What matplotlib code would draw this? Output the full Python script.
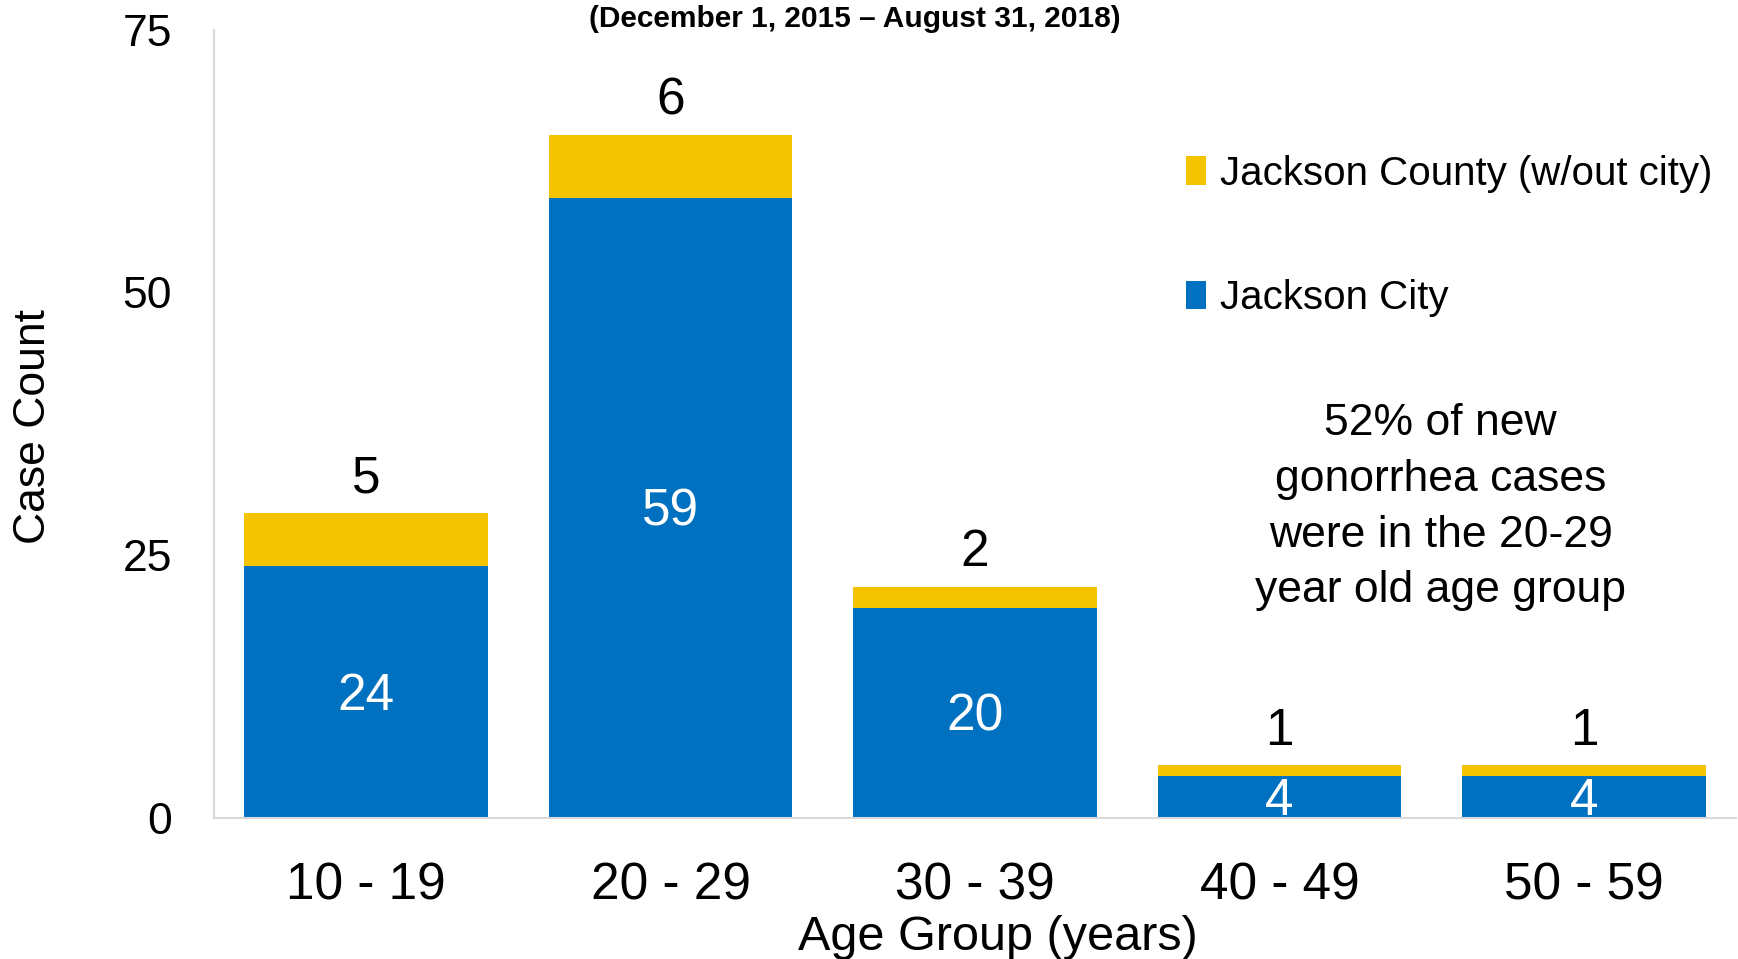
import matplotlib.pyplot as plt
import numpy as np

plt.rcParams['font.family'] = ['Liberation Sans', 'DejaVu Sans']

age_groups = ['10 - 19', '20 - 29', '30 - 39', '40 - 49', '50 - 59']
city_cases = [24, 59, 20, 4, 4]
county_cases = [5, 6, 2, 1, 1]

BLUE = '#0070C0'
GOLD = '#F5C400'

fig = plt.figure(figsize=(17.38, 9.59), dpi=100)
ax = fig.add_axes([0.123, 0.147, 0.876, 0.822])

x = np.arange(len(age_groups))
city = ax.bar(x, city_cases, width=0.8, color=BLUE, label='Jackson City')
county = ax.bar(x, county_cases, width=0.8, bottom=city_cases, color=GOLD,
                label='Jackson County (w/out city)')

# city counts inside the blue part, county counts above the stack
for xi, c, k in zip(x, city_cases, county_cases):
    ax.annotate(str(c), (xi, c / 2), xytext=(0, -3), textcoords='offset points',
                ha='center', va='center', color='white', fontsize=37)
    ax.annotate(str(k), (xi, c + k), xytext=(0, 7), textcoords='offset points',
                ha='center', va='bottom', fontsize=37)

ax.set_xlim(-0.5, 4.5)
ax.set_ylim(0, 75)
ax.set_yticks([0, 25, 50, 75])
ax.set_xticks(x)
ax.set_xticklabels(age_groups)
ax.tick_params(axis='y', length=0, pad=30, labelsize=32)
ax.tick_params(axis='x', length=0, pad=31, labelsize=37)

for s in ['top', 'right']:
    ax.spines[s].set_visible(False)
for s in ['left', 'bottom']:
    ax.spines[s].set_color('#D9D9D9')
    ax.spines[s].set_linewidth(1.5)

fig.text(0.019, 0.555, 'Case Count', rotation=90, ha='center', va='center', fontsize=32)
fig.text(0.574, 0.022, 'Age Group (years)', ha='center', va='center', fontsize=35)
fig.text(0.492, 0.980, '(December 1, 2015 \u2013 August 31, 2018)', ha='center', va='center',
         fontsize=21.5, fontweight='bold')

ax.text(0.829, 0.471, '52% of new\ngonorrhea cases\nwere in the 20-29\nyear old age group',
        transform=fig.transFigure, ha='center', va='center', fontsize=32, linespacing=1.46)

ax.legend(handles=[county, city], loc='upper left', bbox_to_anchor=(0.628, 0.862),
          frameon=False, fontsize=29, handlelength=0.5, handleheight=0.7,
          handletextpad=0.35, labelspacing=2.15, borderaxespad=0)

fig.savefig('out.png', dpi=100)
